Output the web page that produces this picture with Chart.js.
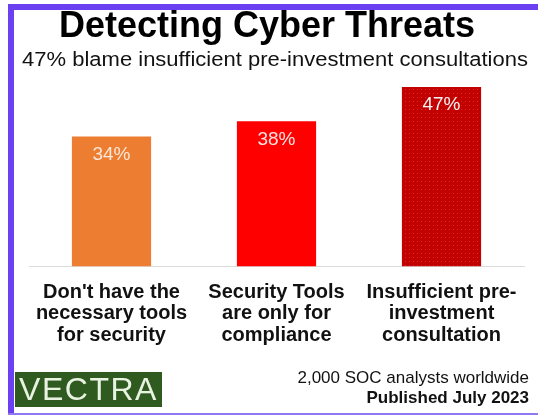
<!DOCTYPE html>
<html>
<head>
<meta charset="utf-8">
<script src="https://cdn.jsdelivr.net/npm/chart.js@4.4.0/dist/chart.umd.min.js"></script>
<style>
  html, body { margin: 0; padding: 0; background: #fff; }
  .page { position: relative; width: 538px; height: 419px; overflow: hidden; font-family: "Liberation Sans", Arial, sans-serif; }
  #chart { position: absolute; left: 0; top: 0; }
  .frame-left { position: absolute; left: 8px; top: 4px; width: 6px; height: 410px; background: #6a40f0; }
  .frame-top { position: absolute; left: 8px; top: 4px; width: 530px; height: 6px; background: #6a40f0; }
  .frame-bottom { position: absolute; left: 8px; top: 413px; width: 530px; height: 2px; background: #8f78f2; }
  .title { position: absolute; left: 0; top: 5px; width: 534px; text-align: center; font-size: 36px; line-height: 40px; font-weight: bold; color: #000; }
  .subtitle { position: absolute; left: 8px; top: 47px; width: 534px; text-align: center; font-size: 20px; line-height: 24px; color: #111;
              transform: scaleX(1.1); transform-origin: center; white-space: nowrap; }
  .logo { position: absolute; left: 15px; top: 372px; width: 147px; height: 35px; background: #2f5a20; color: #e9f3e2;
          font-size: 32px; line-height: 35px; letter-spacing: 1.5px; text-align: center; font-weight: normal; }
  .source { position: absolute; right: 9px; top: 368px; text-align: right; font-size: 17px; line-height: 20px; color: #111; }
  .source b { font-weight: bold; }
</style>
</head>
<body>
<div class="page">
  <canvas id="chart" width="538" height="419"></canvas>
  <div class="frame-left"></div>
  <div class="frame-top"></div>
  <div class="frame-bottom"></div>
  <div class="title" id="title"></div>
  <div class="subtitle" id="subtitle"></div>
  <div class="logo">VECTRA</div>
  <div class="source">2,000 SOC analysts worldwide<br><b>Published July 2023</b></div>
</div>
<script>
// data
const categories = [
  ["Don't have the", 'necessary tools', 'for security'],
  ['Security Tools', 'are only for', 'compliance'],
  ['Insufficient pre-', 'investment', 'consultation']
]
const shares = [34, 38, 47]
const titleText = 'Detecting Cyber Threats'
const subtitleText = '47% blame insufficient pre-investment consultations'

document.getElementById('title').textContent = titleText
document.getElementById('subtitle').textContent = subtitleText

const canvas = document.getElementById('chart')
const ctx = canvas.getContext('2d')

// dark red bar has a fine dotted texture
function dotPattern() {
  const tile = document.createElement('canvas')
  tile.width = 4
  tile.height = 4
  const g = tile.getContext('2d')
  g.fillStyle = '#c20000'
  g.fillRect(0, 0, 4, 4)
  g.fillStyle = '#d92a26'
  g.fillRect(1, 1, 1, 1)
  return ctx.createPattern(tile, 'repeat')
}

const barColors = ['#ed7d31', '#ff0000', dotPattern()]
const valueColors = ['#fce6d8', '#ffe2e0', '#f4f4f4']

const valueLabels = {
  id: 'valueLabels',
  afterDatasetsDraw(chart) {
    const c = chart.ctx
    const meta = chart.getDatasetMeta(0)
    c.save()
    c.font = '19px "Liberation Sans", Arial, sans-serif'
    c.textAlign = 'center'
    c.textBaseline = 'middle'
    meta.data.forEach((bar, i) => {
      c.fillStyle = valueColors[i]
      c.fillText(shares[i] + '%', bar.x, bar.y + 18)
    })
    c.restore()
  }
}

new Chart(canvas, {
  type: 'bar',
  data: {
    labels: categories,
    datasets: [{
      data: shares,
      backgroundColor: barColors,
      borderWidth: 0,
      categoryPercentage: 1,
      barPercentage: 0.48
    }]
  },
  options: {
    responsive: false,
    animation: false,
    layout: { padding: { left: 29, right: 14, top: 75.5, bottom: 57.75 } },
    plugins: {
      legend: { display: false },
      tooltip: { enabled: false }
    },
    scales: {
      y: {
        display: false,
        min: 0,
        max: 50
      },
      x: {
        grid: { display: false, drawTicks: false },
        border: { display: true, color: '#dcdcdc', width: 1 },
        ticks: {
          color: '#111',
          padding: 15,
          maxRotation: 0,
          font: { family: '"Liberation Sans", Arial, sans-serif', size: 20, weight: 'bold', lineHeight: 1.08 }
        }
      }
    }
  },
  plugins: [valueLabels]
})
</script>
</body>
</html>
